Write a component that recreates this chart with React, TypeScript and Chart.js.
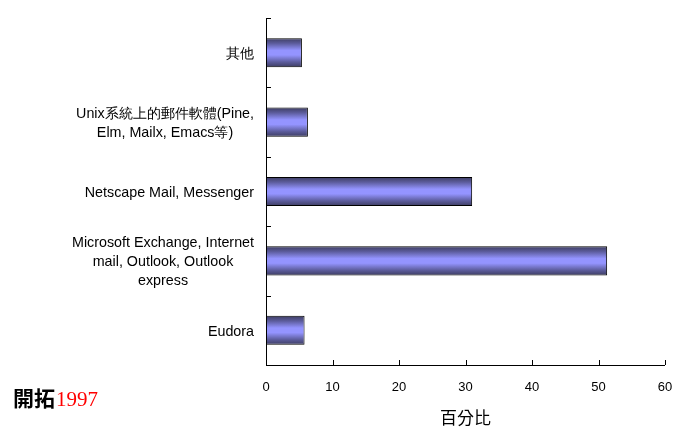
import React, { useEffect, useRef } from "react";
import { Chart, registerables } from "chart.js";

Chart.register(...registerables);

const categories: string[][] = [
  ["其他"],
  ["Unix系統上的郵件軟體(Pine,", "Elm, Mailx, Emacs等)"],
  ["Netscape Mail, Messenger"],
  ["Microsoft Exchange, Internet", "mail, Outlook, Outlook", "express"],
  ["Eudora"],
];
const values: number[] = [5.4, 6.3, 31.0, 51.3, 5.8];
const xTicks: number[] = [0, 10, 20, 30, 40, 50, 60];
const axisTitle = "百分比";
const sourceName = "開拓";
const sourceYear = "1997";

const LABEL_FONT = '14.3px "Liberation Sans", Arial, sans-serif';
const BAR_FRACTION = 0.42;

const customPlugin = {
  id: "custom",
  afterDraw(chart: any) {
    const ctx = chart.ctx as CanvasRenderingContext2D;
    const xs = chart.scales.x;
    const ys = chart.scales.y;
    const ca = chart.chartArea;
    ctx.save();
    ctx.strokeStyle = "#000";
    ctx.lineWidth = 1;
    ctx.beginPath();
    ctx.moveTo(ca.left + 0.5, ca.top);
    ctx.lineTo(ca.left + 0.5, ca.bottom + 0.5);
    ctx.lineTo(ca.right, ca.bottom + 0.5);
    ctx.stroke();
    ctx.beginPath();
    xTicks.forEach((v) => {
      const px = Math.round(xs.getPixelForValue(v)) + 0.5;
      ctx.moveTo(px, ca.bottom);
      ctx.lineTo(px, ca.bottom - 5);
    });
    const n = categories.length;
    const step = (ys.bottom - ys.top) / n;
    for (let i = 0; i <= n; i++) {
      const py = Math.round(ys.getPixelForValue(i) - step / 2) + 0.5;
      ctx.moveTo(ca.left, py);
      ctx.lineTo(ca.left + 5, py);
    }
    ctx.stroke();

    ctx.font = LABEL_FONT;
    ctx.fillStyle = "#000";
    ctx.textBaseline = "middle";
    ctx.textAlign = "center";
    const lh = 19;
    categories.forEach((lines, i) => {
      const cy = ys.getPixelForValue(i) + 1.5;
      const widest = Math.max(...lines.map((l) => ctx.measureText(l).width));
      const cx = ca.left - 12 - widest / 2;
      lines.forEach((l, j) => {
        const y = cy + (j - (lines.length - 1) / 2) * lh;
        ctx.fillText(l, cx, y);
      });
    });

    ctx.textAlign = "left";
    ctx.textBaseline = "alphabetic";
    ctx.font = 'bold 21px "Noto Sans CJK TC", sans-serif';
    ctx.fillStyle = "#000";
    ctx.fillText(sourceName, 13, 406);
    const w = ctx.measureText(sourceName).width;
    ctx.font = '21px "Liberation Serif", "Times New Roman", serif';
    ctx.fillStyle = "#ff0000";
    ctx.fillText(sourceYear, 13 + w + 1, 406);
    ctx.restore();
  },
};

export default function App() {
  const ref = useRef<HTMLCanvasElement | null>(null);
  useEffect(() => {
    document.body.style.margin = "0";
    const canvas = ref.current!;
    const chart = new Chart(canvas, {
      type: "bar",
      data: {
        labels: categories.map((c) => c.join(" ")),
        datasets: [
          {
            data: values,
            borderColor: "#000",
            borderWidth: 1,
            borderSkipped: false,
            categoryPercentage: 1,
            barPercentage: BAR_FRACTION,
            backgroundColor: (c: any) => {
              const ch = c.chart;
              const ys = ch.scales?.y;
              if (!ys || c.dataIndex === undefined) return "#8f8ff5";
              const step = (ys.bottom - ys.top) / categories.length;
              const half = (step * BAR_FRACTION) / 2;
              const cy = ys.getPixelForValue(c.dataIndex);
              if (!isFinite(cy) || !isFinite(half) || half <= 0) return "#8f8ff5";
              const g = ch.ctx.createLinearGradient(0, cy - half, 0, cy + half);
              g.addColorStop(0, "#3c3c60");
              g.addColorStop(0.18, "#5c5c9c");
              g.addColorStop(0.42, "#9494ff");
              g.addColorStop(0.58, "#9494ff");
              g.addColorStop(0.82, "#5c5c9c");
              g.addColorStop(1, "#3c3c60");
              return g;
            },
          },
        ],
      },
      options: {
        indexAxis: "y",
        animation: false,
        responsive: false,
        maintainAspectRatio: false,
        layout: { padding: { left: 0, right: 30, top: 18, bottom: 0 } },
        plugins: { legend: { display: false }, tooltip: { enabled: false } },
        scales: {
          x: {
            min: 0,
            max: 60,
            ticks: {
              stepSize: 10,
              padding: 7,
              color: "#000",
              font: { family: '"Liberation Sans", Arial, sans-serif', size: 13 },
            },
            grid: { display: false },
            border: { display: false },
            title: {
              display: true,
              text: axisTitle,
              color: "#000",
              font: { family: '"Noto Sans CJK TC", sans-serif', size: 17 },
              padding: { top: 0, bottom: 17 },
            },
            afterFit: (s: any) => {
              s.height = 80;
            },
          },
          y: {
            ticks: { display: false },
            grid: { display: false },
            border: { display: false },
            afterFit: (s: any) => {
              s.width = 266;
            },
          },
        },
      },
      plugins: [customPlugin],
    });
    return () => chart.destroy();
  }, []);
  return (
    <div style={{ position: "fixed", left: 0, top: 0, width: 695, height: 445, background: "#fff" }}>
      <canvas ref={ref} width={695} height={445} style={{ width: 695, height: 445 }} />
    </div>
  );
}
